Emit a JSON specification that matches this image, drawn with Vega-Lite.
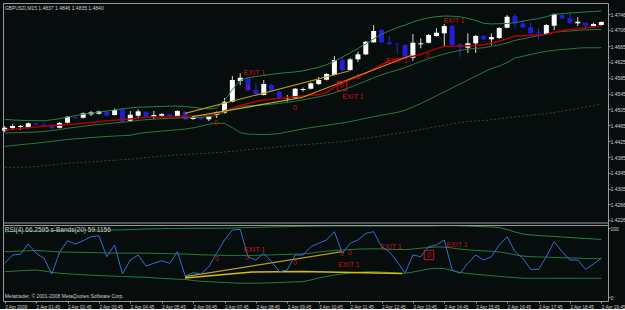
{
"$schema":"https://vega.github.io/schema/vega-lite/v6.json",
"width":605,"height":298,
"padding":{"left":1,"top":3,"right":0,"bottom":0},
"background":"#070c0c",
"config":{"font":"Liberation Sans","view":{"stroke":"#9a9a9a","strokeWidth":1,"fill":"#070c0c"},
 "scale":{"continuousPadding":0},
 "axis":{"grid":false,"domain":false,"labelColor":"#d0d0d0","labelFontSize":5,"tickColor":"#9a9a9a","tickSize":2,"labelPadding":0,"labelOverlap":false,"labelFlush":false,"labelSeparation":0}},
"datasets":{
"bars":[
{"t":"2009-04-02T00:45","o":1.44514,"h":1.44632,"l":1.44481,"c":1.44589,"u":1.44799,"m":1.44458,"lo":1.44117,"r":1.44531,"ll":1.4359,"rsi":48.8,"ru":94.6,"rm":65.7,"rl":36.7},
{"t":"2009-04-02T01:00","o":1.44582,"h":1.44675,"l":1.44549,"c":1.44632,"u":1.44786,"m":1.44462,"lo":1.44138,"r":1.44549,"ll":1.4359,"rsi":60.9,"ru":94.9,"rm":66.1,"rl":37.3},
{"t":"2009-04-02T01:15","o":1.44607,"h":1.44658,"l":1.44531,"c":1.44632,"u":1.44776,"m":1.44468,"lo":1.4416,"r":1.44567,"ll":1.43593,"rsi":61.9,"ru":95.2,"rm":66.6,"rl":38.0},
{"t":"2009-04-02T01:30","o":1.44589,"h":1.44721,"l":1.4457,"c":1.44701,"u":1.44769,"m":1.44475,"lo":1.44181,"r":1.44587,"ll":1.43595,"rsi":76.8,"ru":95.4,"rm":67.0,"rl":38.7},
{"t":"2009-04-02T01:45","o":1.44701,"h":1.44721,"l":1.44645,"c":1.44665,"u":1.44766,"m":1.44482,"lo":1.44198,"r":1.44605,"ll":1.4361,"rsi":63.3,"ru":95.7,"rm":67.4,"rl":39.1},
{"t":"2009-04-02T02:00","o":1.44665,"h":1.44726,"l":1.44614,"c":1.4464,"u":1.44766,"m":1.44495,"lo":1.44223,"r":1.44625,"ll":1.4363,"rsi":56.1,"ru":95.9,"rm":66.8,"rl":37.7},
{"t":"2009-04-02T02:15","o":1.44658,"h":1.4467,"l":1.44557,"c":1.44575,"u":1.44789,"m":1.44518,"lo":1.44246,"r":1.4464,"ll":1.43651,"rsi":33.3,"ru":96.1,"rm":66.0,"rl":35.8},
{"t":"2009-04-02T02:30","o":1.44589,"h":1.44733,"l":1.4457,"c":1.44709,"u":1.44819,"m":1.44544,"lo":1.44269,"r":1.44653,"ll":1.43671,"rsi":64.8,"ru":96.4,"rm":65.4,"rl":34.4},
{"t":"2009-04-02T02:45","o":1.44716,"h":1.44885,"l":1.44696,"c":1.44867,"u":1.44859,"m":1.44576,"lo":1.44292,"r":1.44668,"ll":1.43691,"rsi":81.6,"ru":96.4,"rm":65.0,"rl":33.6},
{"t":"2009-04-02T03:00","o":1.44852,"h":1.44872,"l":1.44809,"c":1.44827,"u":1.44895,"m":1.44602,"lo":1.44309,"r":1.44683,"ll":1.43704,"rsi":76.8,"ru":96.7,"rm":64.8,"rl":32.9},
{"t":"2009-04-02T03:15","o":1.44842,"h":1.44973,"l":1.44822,"c":1.44953,"u":1.44928,"m":1.44626,"lo":1.44324,"r":1.44701,"ll":1.43716,"rsi":81.6,"ru":96.8,"rm":64.6,"rl":32.3},
{"t":"2009-04-02T03:30","o":1.44928,"h":1.45011,"l":1.44885,"c":1.44978,"u":1.44958,"m":1.4465,"lo":1.44342,"r":1.44721,"ll":1.43729,"rsi":87.4,"ru":97.1,"rm":64.4,"rl":31.7},
{"t":"2009-04-02T03:45","o":1.44943,"h":1.45024,"l":1.44923,"c":1.45003,"u":1.44986,"m":1.44671,"lo":1.44355,"r":1.44741,"ll":1.43741,"rsi":88.8,"ru":97.1,"rm":64.1,"rl":31.2},
{"t":"2009-04-02T04:00","o":1.44993,"h":1.45011,"l":1.44872,"c":1.44892,"u":1.45011,"m":1.44689,"lo":1.44367,"r":1.44764,"ll":1.43757,"rsi":58.4,"ru":97.1,"rm":63.8,"rl":30.6},
{"t":"2009-04-02T04:15","o":1.4491,"h":1.45079,"l":1.44897,"c":1.45036,"u":1.45039,"m":1.4471,"lo":1.4438,"r":1.44779,"ll":1.43769,"rsi":75.4,"ru":97.1,"rm":63.6,"rl":30.2},
{"t":"2009-04-02T04:30","o":1.45054,"h":1.45079,"l":1.44721,"c":1.44741,"u":1.45067,"m":1.44729,"lo":1.4439,"r":1.44796,"ll":1.43782,"rsi":33.3,"ru":97.4,"rm":63.6,"rl":29.7},
{"t":"2009-04-02T04:45","o":1.44766,"h":1.45011,"l":1.44741,"c":1.44918,"u":1.45089,"m":1.44744,"lo":1.44398,"r":1.44812,"ll":1.43794,"rsi":53.6,"ru":97.8,"rm":63.6,"rl":29.3},
{"t":"2009-04-02T05:00","o":1.44892,"h":1.45054,"l":1.44827,"c":1.45003,"u":1.45107,"m":1.44775,"lo":1.44443,"r":1.44829,"ll":1.43809,"rsi":60.9,"ru":98.1,"rm":63.5,"rl":28.8},
{"t":"2009-04-02T05:15","o":1.44986,"h":1.45011,"l":1.44847,"c":1.44867,"u":1.45112,"m":1.44792,"lo":1.44471,"r":1.44852,"ll":1.43837,"rsi":44.9,"ru":98.6,"rm":63.6,"rl":28.6},
{"t":"2009-04-02T05:30","o":1.44867,"h":1.45011,"l":1.44802,"c":1.4491,"u":1.4512,"m":1.44803,"lo":1.44486,"r":1.4486,"ll":1.43855,"rsi":48.8,"ru":98.8,"rm":63.3,"rl":27.8},
{"t":"2009-04-02T05:45","o":1.44892,"h":1.44961,"l":1.44872,"c":1.44935,"u":1.45127,"m":1.44816,"lo":1.44504,"r":1.44862,"ll":1.43873,"rsi":52.6,"ru":99.0,"rm":63.1,"rl":27.1},
{"t":"2009-04-02T06:00","o":1.44935,"h":1.44948,"l":1.4486,"c":1.44885,"u":1.45135,"m":1.44828,"lo":1.44521,"r":1.44867,"ll":1.43888,"rsi":48.8,"ru":99.3,"rm":62.8,"rl":26.4},
{"t":"2009-04-02T06:15","o":1.44867,"h":1.45036,"l":1.44847,"c":1.45011,"u":1.45135,"m":1.44836,"lo":1.44536,"r":1.44875,"ll":1.43903,"rsi":65.7,"ru":99.3,"rm":62.5,"rl":25.8},
{"t":"2009-04-02T06:30","o":1.44986,"h":1.45011,"l":1.44784,"c":1.44802,"u":1.45122,"m":1.44838,"lo":1.44554,"r":1.44882,"ll":1.43916,"rsi":30.4,"ru":99.4,"rm":62.4,"rl":25.4},
{"t":"2009-04-02T06:45","o":1.44809,"h":1.44872,"l":1.44791,"c":1.44852,"u":1.45104,"m":1.44846,"lo":1.44587,"r":1.4489,"ll":1.43926,"rsi":35.2,"ru":99.6,"rm":61.7,"rl":23.9},
{"t":"2009-04-02T07:00","o":1.44852,"h":1.44872,"l":1.44784,"c":1.44802,"u":1.45079,"m":1.44853,"lo":1.44627,"r":1.44897,"ll":1.43936,"rsi":33.3,"ru":99.6,"rm":61.2,"rl":22.8},
{"t":"2009-04-02T07:15","o":1.44802,"h":1.4491,"l":1.44758,"c":1.44885,"u":1.45064,"m":1.44871,"lo":1.44678,"r":1.44905,"ll":1.43944,"rsi":43.9,"ru":99.6,"rm":60.9,"rl":22.2},
{"t":"2009-04-02T07:30","o":1.4491,"h":1.44999,"l":1.44834,"c":1.44978,"u":1.45086,"m":1.44896,"lo":1.44706,"r":1.44948,"ll":1.43961,"rsi":63.3,"ru":99.6,"rm":60.6,"rl":21.6},
{"t":"2009-04-02T07:45","o":1.44968,"h":1.45339,"l":1.44948,"c":1.45246,"u":1.45279,"m":1.44989,"lo":1.44698,"r":1.45011,"ll":1.43979,"rsi":82.6,"ru":99.7,"rm":60.4,"rl":21.0},
{"t":"2009-04-02T08:00","o":1.45246,"h":1.45895,"l":1.45226,"c":1.45794,"u":1.45551,"m":1.45071,"lo":1.4459,"r":1.45079,"ll":1.43996,"rsi":97.1,"ru":100.0,"rm":60.2,"rl":20.4},
{"t":"2009-04-02T08:15","o":1.45768,"h":1.45963,"l":1.45667,"c":1.45852,"u":1.45784,"m":1.45126,"lo":1.44468,"r":1.4515,"ll":1.44016,"rsi":98.1,"ru":100.3,"rm":60.2,"rl":20.0},
{"t":"2009-04-02T08:30","o":1.45836,"h":1.4587,"l":1.45516,"c":1.45534,"u":1.45857,"m":1.45143,"lo":1.44428,"r":1.452,"ll":1.44037,"rsi":58.4,"ru":100.6,"rm":60.2,"rl":19.9},
{"t":"2009-04-02T08:45","o":1.45541,"h":1.4571,"l":1.45428,"c":1.4544,"u":1.45882,"m":1.45153,"lo":1.44423,"r":1.45251,"ll":1.44054,"rsi":53.6,"ru":100.9,"rm":60.4,"rl":20.0},
{"t":"2009-04-02T09:00","o":1.45415,"h":1.45794,"l":1.45402,"c":1.45693,"u":1.4591,"m":1.45164,"lo":1.44418,"r":1.45289,"ll":1.44072,"rsi":63.3,"ru":101.2,"rm":60.7,"rl":20.3},
{"t":"2009-04-02T09:15","o":1.45667,"h":1.45693,"l":1.45503,"c":1.45524,"u":1.45938,"m":1.45182,"lo":1.44425,"r":1.45314,"ll":1.44092,"rsi":51.2,"ru":101.5,"rm":61.0,"rl":20.6},
{"t":"2009-04-02T09:30","o":1.45503,"h":1.45529,"l":1.45314,"c":1.45332,"u":1.45963,"m":1.45203,"lo":1.44443,"r":1.45334,"ll":1.4411,"rsi":36.7,"ru":101.7,"rm":61.4,"rl":21.0},
{"t":"2009-04-02T09:45","o":1.45332,"h":1.45415,"l":1.45246,"c":1.45364,"u":1.45981,"m":1.45231,"lo":1.44481,"r":1.45352,"ll":1.44128,"rsi":39.1,"ru":102.0,"rm":61.7,"rl":21.5},
{"t":"2009-04-02T10:00","o":1.45347,"h":1.45592,"l":1.45327,"c":1.45574,"u":1.45998,"m":1.4526,"lo":1.44521,"r":1.4537,"ll":1.44145,"rsi":60.9,"ru":102.3,"rm":62.1,"rl":21.9},
{"t":"2009-04-02T10:15","o":1.45541,"h":1.45604,"l":1.45503,"c":1.45566,"u":1.46026,"m":1.45293,"lo":1.44559,"r":1.4539,"ll":1.4416,"rsi":60.9,"ru":102.5,"rm":62.4,"rl":22.3},
{"t":"2009-04-02T10:30","o":1.45574,"h":1.4573,"l":1.45554,"c":1.4571,"u":1.46071,"m":1.45332,"lo":1.44592,"r":1.4541,"ll":1.44175,"rsi":72.9,"ru":102.6,"rm":63.6,"rl":24.6},
{"t":"2009-04-02T10:45","o":1.45693,"h":1.4587,"l":1.45667,"c":1.45794,"u":1.46117,"m":1.4537,"lo":1.44622,"r":1.4543,"ll":1.44191,"rsi":77.8,"ru":102.8,"rm":65.2,"rl":27.5},
{"t":"2009-04-02T11:00","o":1.45801,"h":1.45971,"l":1.45781,"c":1.45945,"u":1.46177,"m":1.45414,"lo":1.4465,"r":1.45478,"ll":1.44206,"rsi":82.6,"ru":102.9,"rm":66.3,"rl":29.7},
{"t":"2009-04-02T11:15","o":1.4592,"h":1.46399,"l":1.45907,"c":1.46298,"u":1.46268,"m":1.45474,"lo":1.4468,"r":1.45617,"ll":1.44221,"rsi":94.6,"ru":102.9,"rm":67.4,"rl":31.9},
{"t":"2009-04-02T11:30","o":1.46298,"h":1.46382,"l":1.46003,"c":1.46046,"u":1.46374,"m":1.45541,"lo":1.44708,"r":1.45718,"ll":1.44241,"rsi":63.3,"ru":102.9,"rm":68.1,"rl":33.3},
{"t":"2009-04-02T11:45","o":1.46046,"h":1.46349,"l":1.46021,"c":1.46316,"u":1.46475,"m":1.45609,"lo":1.44743,"r":1.45799,"ll":1.44264,"rsi":77.8,"ru":102.9,"rm":68.8,"rl":34.8},
{"t":"2009-04-02T12:00","o":1.46316,"h":1.46508,"l":1.46248,"c":1.46442,"u":1.46589,"m":1.45687,"lo":1.44784,"r":1.45882,"ll":1.44294,"rsi":82.6,"ru":102.9,"rm":69.4,"rl":35.8},
{"t":"2009-04-02T12:15","o":1.46442,"h":1.46778,"l":1.46425,"c":1.4676,"u":1.46707,"m":1.45767,"lo":1.44827,"r":1.45963,"ll":1.44324,"rsi":92.3,"ru":102.9,"rm":69.7,"rl":36.5},
{"t":"2009-04-02T12:30","o":1.46745,"h":1.47182,"l":1.46728,"c":1.47031,"u":1.46834,"m":1.45851,"lo":1.44867,"r":1.46076,"ll":1.44355,"rsi":94.6,"ru":102.9,"rm":69.9,"rl":36.8},
{"t":"2009-04-02T12:45","o":1.47056,"h":1.47081,"l":1.46728,"c":1.46745,"u":1.46947,"m":1.45926,"lo":1.44905,"r":1.4618,"ll":1.44385,"rsi":72.9,"ru":102.9,"rm":69.6,"rl":36.2},
{"t":"2009-04-02T13:00","o":1.46745,"h":1.46904,"l":1.46677,"c":1.46702,"u":1.47035,"m":1.45988,"lo":1.4494,"r":1.46273,"ll":1.44415,"rsi":65.7,"ru":102.9,"rm":69.1,"rl":35.4},
{"t":"2009-04-02T13:15","o":1.4671,"h":1.4672,"l":1.46468,"c":1.46695,"u":1.47114,"m":1.46045,"lo":1.44976,"r":1.46324,"ll":1.44443,"rsi":51.2,"ru":102.9,"rm":68.8,"rl":34.6},
{"t":"2009-04-02T13:30","o":1.46677,"h":1.46702,"l":1.46362,"c":1.46382,"u":1.47182,"m":1.46107,"lo":1.45031,"r":1.46362,"ll":1.44471,"rsi":34.8,"ru":102.9,"rm":68.6,"rl":34.4},
{"t":"2009-04-02T13:45","o":1.46357,"h":1.46955,"l":1.46273,"c":1.46735,"u":1.47258,"m":1.46185,"lo":1.45112,"r":1.46392,"ll":1.44506,"rsi":60.9,"ru":102.9,"rm":69.6,"rl":36.2},
{"t":"2009-04-02T14:00","o":1.46695,"h":1.46846,"l":1.46594,"c":1.4672,"u":1.47321,"m":1.46261,"lo":1.452,"r":1.46438,"ll":1.44544,"rsi":58.4,"ru":102.9,"rm":70.7,"rl":38.4},
{"t":"2009-04-02T14:15","o":1.46735,"h":1.46955,"l":1.46715,"c":1.4693,"u":1.47364,"m":1.46332,"lo":1.45299,"r":1.46513,"ll":1.44582,"rsi":72.9,"ru":102.9,"rm":71.7,"rl":40.6},
{"t":"2009-04-02T14:30","o":1.46904,"h":1.47099,"l":1.46887,"c":1.46988,"u":1.47394,"m":1.46395,"lo":1.45395,"r":1.46586,"ll":1.44614,"rsi":75.4,"ru":103.2,"rm":72.4,"rl":41.6},
{"t":"2009-04-02T14:45","o":1.46972,"h":1.47207,"l":1.46652,"c":1.47157,"u":1.47409,"m":1.46451,"lo":1.45493,"r":1.46639,"ll":1.4465,"rsi":82.6,"ru":103.5,"rm":72.3,"rl":41.2},
{"t":"2009-04-02T15:00","o":1.47157,"h":1.47182,"l":1.46634,"c":1.46677,"u":1.47404,"m":1.46499,"lo":1.45594,"r":1.46644,"ll":1.44685,"rsi":39.1,"ru":103.5,"rm":71.0,"rl":38.4},
{"t":"2009-04-02T15:15","o":1.46695,"h":1.46715,"l":1.46382,"c":1.46619,"u":1.47389,"m":1.46541,"lo":1.45693,"r":1.46652,"ll":1.44718,"rsi":34.4,"ru":103.2,"rm":69.4,"rl":35.5},
{"t":"2009-04-02T15:30","o":1.46609,"h":1.46972,"l":1.46475,"c":1.4672,"u":1.47351,"m":1.46573,"lo":1.45794,"r":1.46659,"ll":1.44746,"rsi":48.8,"ru":102.8,"rm":68.4,"rl":34.1},
{"t":"2009-04-02T15:45","o":1.4672,"h":1.4693,"l":1.46475,"c":1.46904,"u":1.47296,"m":1.46593,"lo":1.4589,"r":1.46667,"ll":1.44758,"rsi":60.9,"ru":102.3,"rm":67.6,"rl":32.9},
{"t":"2009-04-02T16:00","o":1.46904,"h":1.4693,"l":1.46803,"c":1.46821,"u":1.47227,"m":1.46609,"lo":1.45991,"r":1.46682,"ll":1.44769,"rsi":53.6,"ru":101.9,"rm":66.9,"rl":31.9},
{"t":"2009-04-02T16:15","o":1.46821,"h":1.46972,"l":1.46677,"c":1.46879,"u":1.4721,"m":1.46647,"lo":1.46084,"r":1.46728,"ll":1.44791,"rsi":58.4,"ru":101.5,"rm":66.2,"rl":30.9},
{"t":"2009-04-02T16:30","o":1.46854,"h":1.47131,"l":1.46829,"c":1.47106,"u":1.47215,"m":1.4668,"lo":1.46145,"r":1.46773,"ll":1.44816,"rsi":75.4,"ru":100.7,"rm":65.3,"rl":29.9},
{"t":"2009-04-02T16:45","o":1.47114,"h":1.47434,"l":1.47099,"c":1.47391,"u":1.47222,"m":1.46729,"lo":1.46236,"r":1.46834,"ll":1.44839,"rsi":87.4,"ru":97.8,"rm":63.4,"rl":29.0},
{"t":"2009-04-02T17:00","o":1.47409,"h":1.4746,"l":1.47099,"c":1.47225,"u":1.4724,"m":1.46795,"lo":1.46349,"r":1.46904,"ll":1.44862,"rsi":65.7,"ru":94.2,"rm":61.1,"rl":28.0},
{"t":"2009-04-02T17:15","o":1.47225,"h":1.47308,"l":1.47099,"c":1.47124,"u":1.47278,"m":1.46835,"lo":1.46392,"r":1.46914,"ll":1.44882,"rsi":56.1,"ru":91.3,"rm":59.3,"rl":27.3},
{"t":"2009-04-02T17:30","o":1.47124,"h":1.4724,"l":1.46955,"c":1.46972,"u":1.47313,"m":1.46876,"lo":1.46438,"r":1.46924,"ll":1.44905,"rsi":40.1,"ru":89.9,"rm":58.5,"rl":27.1},
{"t":"2009-04-02T17:45","o":1.46998,"h":1.47099,"l":1.46821,"c":1.46972,"u":1.47346,"m":1.46915,"lo":1.46483,"r":1.46935,"ll":1.44928,"rsi":40.1,"ru":89.1,"rm":58.1,"rl":27.1},
{"t":"2009-04-02T18:00","o":1.46955,"h":1.47207,"l":1.4693,"c":1.47182,"u":1.47391,"m":1.46955,"lo":1.46518,"r":1.46945,"ll":1.4495,"rsi":58.4,"ru":88.4,"rm":57.8,"rl":27.1},
{"t":"2009-04-02T18:15","o":1.47164,"h":1.47477,"l":1.47056,"c":1.4746,"u":1.47452,"m":1.46998,"lo":1.46543,"r":1.46998,"ll":1.44973,"rsi":80.1,"ru":87.7,"rm":57.4,"rl":27.1},
{"t":"2009-04-02T18:30","o":1.47434,"h":1.4746,"l":1.47326,"c":1.47351,"u":1.4747,"m":1.47018,"lo":1.46566,"r":1.47043,"ll":1.45006,"rsi":65.7,"ru":87.0,"rm":57.0,"rl":27.1},
{"t":"2009-04-02T18:45","o":1.47351,"h":1.47492,"l":1.47207,"c":1.4724,"u":1.47485,"m":1.47032,"lo":1.46579,"r":1.47068,"ll":1.45041,"rsi":53.6,"ru":86.2,"rm":56.7,"rl":27.1},
{"t":"2009-04-02T19:00","o":1.47225,"h":1.47376,"l":1.47157,"c":1.47265,"u":1.47497,"m":1.47048,"lo":1.46599,"r":1.47086,"ll":1.45074,"rsi":53.6,"ru":85.5,"rm":56.3,"rl":27.1},
{"t":"2009-04-02T19:15","o":1.47232,"h":1.47258,"l":1.47073,"c":1.47164,"u":1.47513,"m":1.47061,"lo":1.46609,"r":1.47111,"ll":1.45109,"rsi":40.1,"ru":84.8,"rm":55.9,"rl":27.1},
{"t":"2009-04-02T19:30","o":1.47157,"h":1.4724,"l":1.47139,"c":1.47207,"u":1.47523,"m":1.47066,"lo":1.46609,"r":1.47134,"ll":1.45147,"rsi":47.8,"ru":84.1,"rm":55.6,"rl":27.1},
{"t":"2009-04-02T19:45","o":1.47182,"h":1.47275,"l":1.47164,"c":1.47258,"u":1.47535,"m":1.47072,"lo":1.46609,"r":1.47157,"ll":1.45185,"rsi":56.1,"ru":83.6,"rm":55.4,"rl":27.1}
],
"tlP":[
{"t":"2009-04-02T06:29:33","p":1.44953,"g":"a"},{"t":"2009-04-02T11:42:54","p":1.46021,"g":"a"},
{"t":"2009-04-02T06:42:54","p":1.44867,"g":"b"},{"t":"2009-04-02T10:13:04","p":1.45352,"g":"b"},
{"t":"2009-04-02T10:13:04","p":1.45352,"g":"c"},{"t":"2009-04-02T13:43:18","p":1.46425,"g":"c"}
],
"tlR":[
{"t":"2009-04-02T06:29:33","v":29.4,"g":"d"},{"t":"2009-04-02T11:29:33","v":65.7,"g":"d"},
{"t":"2009-04-02T06:29:33","v":27.5,"g":"e"},{"t":"2009-04-02T08:37:38","v":36.2,"g":"e"},{"t":"2009-04-02T10:13:04","v":37.0,"g":"e"},{"t":"2009-04-02T13:24:11","v":34.1,"g":"e"}
],
"annP":[
{"t":"2009-04-02T08:42:18","p":1.45971,"s":"EXIT 1"},
{"t":"2009-04-02T08:28:00","p":1.45592,"s":"0"},
{"t":"2009-04-02T09:59:42","p":1.45087,"s":"0"},
{"t":"2009-04-02T07:28:48","p":1.44709,"s":"0"},
{"t":"2009-04-02T11:29:33","p":1.45642,"s":"0"},
{"t":"2009-04-02T11:50:33","p":1.45364,"s":"EXIT 1"},
{"t":"2009-04-02T12:00:00","p":1.4587,"s":"0"},
{"t":"2009-04-02T13:14:33","p":1.46281,"s":"EXIT 1"},
{"t":"2009-04-02T14:13:48","p":1.46399,"s":"0"},
{"t":"2009-04-02T15:03:36","p":1.47283,"s":"EXIT 1"}
],
"boxP":[{"t":"2009-04-02T11:29:33","p":1.45642}],
"annR":[
{"t":"2009-04-02T08:42:18","v":68.1,"s":"EXIT 1"},
{"t":"2009-04-02T07:30:40","v":55.1,"s":"0"},
{"t":"2009-04-02T08:28:00","v":56.5,"s":"0"},
{"t":"2009-04-02T09:59:42","v":49.3,"s":"0"},
{"t":"2009-04-02T11:29:33","v":62.3,"s":"0"},
{"t":"2009-04-02T11:44:52","v":63.8,"s":"0"},
{"t":"2009-04-02T11:42:54","v":46.4,"s":"EXIT 1"},
{"t":"2009-04-02T13:03:10","v":72.5,"s":"EXIT 1"},
{"t":"2009-04-02T14:15:44","v":60.9,"s":"0"},
{"t":"2009-04-02T15:09:18","v":75.4,"s":"EXIT 1"}
],
"boxR":[{"t":"2009-04-02T14:15:44","v":60.9}],
"titleP":[{"t":"2009-04-02T00:45:00","p":1.47611,"s":"GBPUSD,M15  1.4837 1.4846 1.4835 1.4840"}],
"titleR":[{"t":"2009-04-02T00:45:00","v":97.1,"s":"RSI(4) 66.2595   s-Bands(20) 59.1156"}],
"copyR":[{"t":"2009-04-02T00:45:00","v":1.2,"s":"Metatrader, © 2001-2008 MetaQuotes Software Corp."}],
"sep":[{"p":1.42184,"v":103.6}]
},
"layer":[
{
"data":{"name":"bars"},
"layer":[
{"mark":{"type":"rule","strokeWidth":1},
 "encoding":{
  "x":{"field":"t","type":"temporal",
   "scale":{"domain":[{"year":2009,"month":4,"date":2,"hours":0,"minutes":41,"seconds":45},{"year":2009,"month":4,"date":2,"hours":19,"minutes":57,"seconds":48}],"padding":0},
   "axis":{"values":[
    {"year":2009,"month":4,"date":2,"hours":0,"minutes":45},{"year":2009,"month":4,"date":2,"hours":1,"minutes":45},{"year":2009,"month":4,"date":2,"hours":2,"minutes":45},{"year":2009,"month":4,"date":2,"hours":3,"minutes":45},{"year":2009,"month":4,"date":2,"hours":4,"minutes":45},{"year":2009,"month":4,"date":2,"hours":5,"minutes":45},{"year":2009,"month":4,"date":2,"hours":6,"minutes":45},{"year":2009,"month":4,"date":2,"hours":7,"minutes":45},{"year":2009,"month":4,"date":2,"hours":8,"minutes":45},{"year":2009,"month":4,"date":2,"hours":9,"minutes":45},{"year":2009,"month":4,"date":2,"hours":10,"minutes":45},{"year":2009,"month":4,"date":2,"hours":11,"minutes":45},{"year":2009,"month":4,"date":2,"hours":12,"minutes":45},{"year":2009,"month":4,"date":2,"hours":13,"minutes":45},{"year":2009,"month":4,"date":2,"hours":14,"minutes":45},{"year":2009,"month":4,"date":2,"hours":15,"minutes":45},{"year":2009,"month":4,"date":2,"hours":16,"minutes":45},{"year":2009,"month":4,"date":2,"hours":17,"minutes":45},{"year":2009,"month":4,"date":2,"hours":18,"minutes":45},{"year":2009,"month":4,"date":2,"hours":19,"minutes":45}],
    "tickCount":200,
    "labelExpr":"hours(datum.value)==0 ? '2 Apr 2009' : timeFormat(datum.value,'%-d %b %H:%M')",
    "labelAlign":"left","labelBaseline":"top","title":null,"labelBound":false,"labelOverlap":false,"labelFontSize":4.6,"labelPadding":1,"labelDx":-2}},
  "y":{"field":"h","type":"quantitative","scale":{"domain":[1.42184,1.47738],"range":[220,0],"nice":false,"zero":false},
   "axis":{"orient":"right","values":[1.4746,1.4706,1.4665,1.4625,1.4585,1.4545,1.4505,1.4465,1.4425,1.4385,1.4345,1.4305,1.4266,1.4226],"tickCount":200,"format":".4f","title":null,"labelOverlap":false}},
  "y2":{"field":"l"},
  "color":{"condition":{"test":"datum.c >= datum.o","value":"#d8d8d8"},"value":"#2a2ae0"}}},
{"mark":{"type":"bar","width":5},
 "encoding":{
  "x":{"field":"t","type":"temporal"},
  "y":{"field":"o","type":"quantitative","scale":{"domain":[1.42184,1.47738],"range":[220,0],"nice":false,"zero":false},"axis":{"orient":"right"}},
  "y2":{"field":"c"},
  "color":{"condition":{"test":"datum.c >= datum.o","value":"#ffffff"},"value":"#1f1fd8"}}},
{"mark":{"type":"line","color":"#1a5a1a","strokeWidth":1,"strokeDash":[2,2]},
 "encoding":{"x":{"field":"t","type":"temporal"},"y":{"field":"ll","type":"quantitative","scale":{"domain":[1.42184,1.47738],"range":[220,0],"nice":false,"zero":false},"axis":{"orient":"right"}}}},
{"mark":{"type":"line","color":"#267a3c","strokeWidth":1},
 "encoding":{"x":{"field":"t","type":"temporal"},"y":{"field":"lo","type":"quantitative","scale":{"domain":[1.42184,1.47738],"range":[220,0],"nice":false,"zero":false},"axis":{"orient":"right"}}}},
{"mark":{"type":"line","color":"#2a8244","strokeWidth":1},
 "encoding":{"x":{"field":"t","type":"temporal"},"y":{"field":"u","type":"quantitative","scale":{"domain":[1.42184,1.47738],"range":[220,0],"nice":false,"zero":false},"axis":{"orient":"right"}}}},
{"mark":{"type":"line","color":"#267a3c","strokeWidth":1},
 "encoding":{"x":{"field":"t","type":"temporal"},"y":{"field":"m","type":"quantitative","scale":{"domain":[1.42184,1.47738],"range":[220,0],"nice":false,"zero":false},"axis":{"orient":"right"}}}},
{"mark":{"type":"line","color":"#b00000","strokeWidth":1.5},
 "encoding":{"x":{"field":"t","type":"temporal"},"y":{"field":"r","type":"quantitative","scale":{"domain":[1.42184,1.47738],"range":[220,0],"nice":false,"zero":false},"axis":{"orient":"right"}}}},
{"data":{"name":"tlP"},"transform":[{"filter":"datum.g=='a'"}],
 "mark":{"type":"line","color":"#b89a18","strokeWidth":1.2},
 "encoding":{"x":{"field":"t","type":"temporal"},"y":{"field":"p","type":"quantitative","scale":{"domain":[1.42184,1.47738],"range":[220,0],"nice":false,"zero":false},"axis":{"orient":"right"}}}},
{"data":{"name":"tlP"},"transform":[{"filter":"datum.g=='b'"}],
 "mark":{"type":"line","color":"#b4bc28","strokeWidth":1.2},
 "encoding":{"x":{"field":"t","type":"temporal"},"y":{"field":"p","type":"quantitative","scale":{"domain":[1.42184,1.47738],"range":[220,0],"nice":false,"zero":false},"axis":{"orient":"right"}}}},
{"data":{"name":"tlP"},"transform":[{"filter":"datum.g=='c'"}],
 "mark":{"type":"line","color":"#e08a14","strokeWidth":1.2},
 "encoding":{"x":{"field":"t","type":"temporal"},"y":{"field":"p","type":"quantitative","scale":{"domain":[1.42184,1.47738],"range":[220,0],"nice":false,"zero":false},"axis":{"orient":"right"}}}},
{"data":{"name":"annP"},
 "mark":{"type":"text","color":"#c81414","fontSize":7,"align":"center","baseline":"middle"},
 "encoding":{"x":{"field":"t","type":"temporal"},"y":{"field":"p","type":"quantitative","scale":{"domain":[1.42184,1.47738],"range":[220,0],"nice":false,"zero":false},"axis":{"orient":"right"}},"text":{"field":"s"}}},
{"data":{"name":"boxP"},
 "mark":{"type":"point","shape":"square","size":90,"filled":false,"color":"#c81414","strokeWidth":1,"opacity":1},
 "encoding":{"x":{"field":"t","type":"temporal"},"y":{"field":"p","type":"quantitative","scale":{"domain":[1.42184,1.47738],"range":[220,0],"nice":false,"zero":false},"axis":{"orient":"right"}}}},
{"data":{"name":"titleP"},
 "mark":{"type":"text","color":"#d0d0d0","fontSize":5,"align":"left","baseline":"middle"},
 "encoding":{"x":{"field":"t","type":"temporal"},"y":{"field":"p","type":"quantitative","scale":{"domain":[1.42184,1.47738],"range":[220,0],"nice":false,"zero":false},"axis":{"orient":"right"}},"text":{"field":"s"}}},
{"data":{"name":"sep"},
 "mark":{"type":"rule","color":"#9a9a9a","strokeWidth":1},
 "encoding":{"y":{"field":"p","type":"quantitative","scale":{"domain":[1.42184,1.47738],"range":[220,0],"nice":false,"zero":false},"axis":{"orient":"right"}}}}
]
},
{
"data":{"name":"bars"},
"layer":[
{"mark":{"type":"line","color":"#2a8244","strokeWidth":1},
 "encoding":{"x":{"field":"t","type":"temporal","scale":{"domain":[{"year":2009,"month":4,"date":2,"hours":0,"minutes":41,"seconds":45},{"year":2009,"month":4,"date":2,"hours":19,"minutes":57,"seconds":48}],"padding":0}},
  "y":{"field":"ru","type":"quantitative","scale":{"domain":[0,100],"range":[294,225],"nice":false,"zero":false},
   "axis":{"orient":"right","values":[0,100],"tickCount":50,"format":"d","title":null}}}},
{"mark":{"type":"line","color":"#267a3c","strokeWidth":1},
 "encoding":{"x":{"field":"t","type":"temporal"},"y":{"field":"rm","type":"quantitative","scale":{"domain":[0,100],"range":[294,225],"nice":false,"zero":false},"axis":{"orient":"right"}}}},
{"mark":{"type":"line","color":"#267a3c","strokeWidth":1},
 "encoding":{"x":{"field":"t","type":"temporal"},"y":{"field":"rl","type":"quantitative","scale":{"domain":[0,100],"range":[294,225],"nice":false,"zero":false},"axis":{"orient":"right"}}}},
{"data":{"name":"tlR"},"transform":[{"filter":"datum.g=='d'"}],
 "mark":{"type":"line","color":"#b8a020","strokeWidth":1.2},
 "encoding":{"x":{"field":"t","type":"temporal"},"y":{"field":"v","type":"quantitative","scale":{"domain":[0,100],"range":[294,225],"nice":false,"zero":false},"axis":{"orient":"right"}}}},
{"data":{"name":"tlR"},"transform":[{"filter":"datum.g=='e'"}],
 "mark":{"type":"line","color":"#d8c000","strokeWidth":1.5},
 "encoding":{"x":{"field":"t","type":"temporal"},"y":{"field":"v","type":"quantitative","scale":{"domain":[0,100],"range":[294,225],"nice":false,"zero":false},"axis":{"orient":"right"}}}},
{"mark":{"type":"line","color":"#3070d0","strokeWidth":1},
 "encoding":{"x":{"field":"t","type":"temporal"},"y":{"field":"rsi","type":"quantitative","scale":{"domain":[0,100],"range":[294,225],"nice":false,"zero":false},"axis":{"orient":"right"}}}},
{"data":{"name":"annR"},
 "mark":{"type":"text","color":"#c81414","fontSize":7,"align":"center","baseline":"middle"},
 "encoding":{"x":{"field":"t","type":"temporal"},"y":{"field":"v","type":"quantitative","scale":{"domain":[0,100],"range":[294,225],"nice":false,"zero":false},"axis":{"orient":"right"}},"text":{"field":"s"}}},
{"data":{"name":"boxR"},
 "mark":{"type":"point","shape":"square","size":90,"filled":false,"color":"#c81414","strokeWidth":1,"opacity":1},
 "encoding":{"x":{"field":"t","type":"temporal"},"y":{"field":"v","type":"quantitative","scale":{"domain":[0,100],"range":[294,225],"nice":false,"zero":false},"axis":{"orient":"right"}}}},
{"data":{"name":"titleR"},
 "mark":{"type":"text","color":"#d0d0d0","fontSize":6.5,"align":"left","baseline":"middle"},
 "encoding":{"x":{"field":"t","type":"temporal"},"y":{"field":"v","type":"quantitative","scale":{"domain":[0,100],"range":[294,225],"nice":false,"zero":false},"axis":{"orient":"right"}},"text":{"field":"s"}}},
{"data":{"name":"copyR"},
 "mark":{"type":"text","color":"#d0d0d0","fontSize":5,"align":"left","baseline":"middle"},
 "encoding":{"x":{"field":"t","type":"temporal"},"y":{"field":"v","type":"quantitative","scale":{"domain":[0,100],"range":[294,225],"nice":false,"zero":false},"axis":{"orient":"right"}},"text":{"field":"s"}}},
{"data":{"name":"sep"},
 "mark":{"type":"rule","color":"#9a9a9a","strokeWidth":1},
 "encoding":{"y":{"field":"v","type":"quantitative","scale":{"domain":[0,100],"range":[294,225],"nice":false,"zero":false},"axis":{"orient":"right"}}}}
]
}
],
"resolve":{"scale":{"y":"independent"},"axis":{"y":"independent"}}
}
